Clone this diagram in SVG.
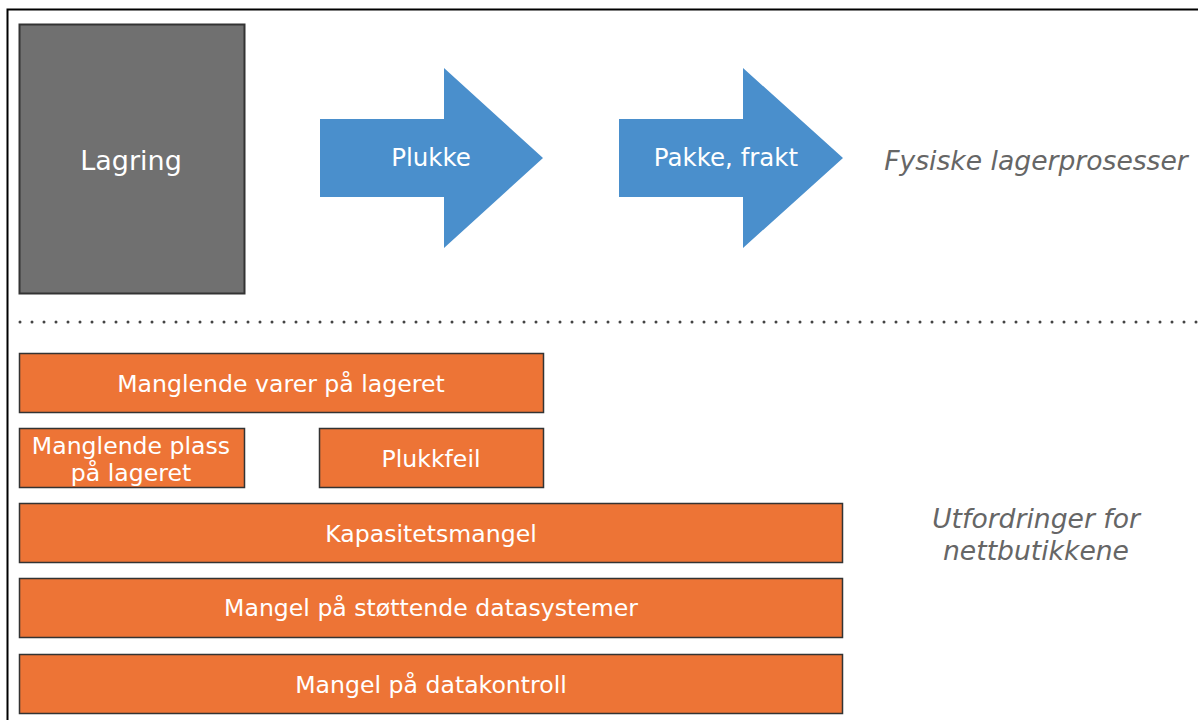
<svg xmlns="http://www.w3.org/2000/svg" width="1198" height="720" viewBox="0 0 1198 720">
<style>
.lbl{font-family:"DejaVu Sans",Verdana,sans-serif;font-size:23.6px;fill:#fff;text-anchor:middle;dominant-baseline:central}
.big{font-size:27px}
.arrl{font-size:24.5px}
.box{fill:#ED7436;stroke:#333;stroke-width:1.5}
.arr{fill:#4A8FCC}
.note{font-family:"DejaVu Sans",Verdana,sans-serif;font-size:26.6px;font-style:italic;fill:#666;text-anchor:middle;dominant-baseline:central}
</style>
<rect x="0" y="0" width="1198" height="720" fill="#fff"/>
<rect x="7.5" y="9.5" width="1200" height="720" fill="none" stroke="#000" stroke-width="2"/>
<g id="lagring">
<rect x="19.5" y="24.5" width="225" height="269" fill="#707070" stroke="#333" stroke-width="2"/>
<text class="lbl big" x="131" y="160">Lagring</text>
</g>
<g id="plukke">
<polygon class="arr" points="320,119 444,119 444,68 543,158 444,248 444,197 320,197"/>
<text class="lbl arrl" x="431" y="157">Plukke</text>
</g>
<g id="pakke">
<polygon class="arr" points="619,119 743,119 743,68 843,158 743,248 743,197 619,197"/>
<text class="lbl arrl" x="726" y="157">Pakke, frakt</text>
</g>
<text class="note" x="1036" y="160">Fysiske lagerprosesser</text>
<g id="connectors">
<line x1="20" y1="322" x2="1198" y2="322" stroke="#444" stroke-width="3" stroke-linecap="round" stroke-dasharray="0 12"/>
</g>
<g id="manglende-varer">
<rect class="box" x="19.5" y="353.5" width="524" height="59"/>
<text class="lbl" x="281" y="384">Manglende varer på lageret</text>
</g>
<g id="manglende-plass">
<rect class="box" x="19.5" y="428.5" width="225" height="59"/>
<text class="lbl" x="131" y="446">Manglende plass</text>
<text class="lbl" x="131" y="473">på lageret</text>
</g>
<g id="plukkfeil">
<rect class="box" x="319.5" y="428.5" width="224" height="59"/>
<text class="lbl" x="431" y="459">Plukkfeil</text>
</g>
<g id="kapasitet">
<rect class="box" x="19.5" y="503.5" width="823" height="59"/>
<text class="lbl" x="431" y="534">Kapasitetsmangel</text>
</g>
<g id="datasystemer">
<rect class="box" x="19.5" y="578.5" width="823" height="59"/>
<text class="lbl" x="431" y="608">Mangel på støttende datasystemer</text>
</g>
<g id="datakontroll">
<rect class="box" x="19.5" y="654.5" width="823" height="59"/>
<text class="lbl" x="431" y="685">Mangel på datakontroll</text>
</g>
<text class="note" x="1036" y="518">Utfordringer for</text>
<text class="note" x="1036" y="550">nettbutikkene</text>
</svg>
